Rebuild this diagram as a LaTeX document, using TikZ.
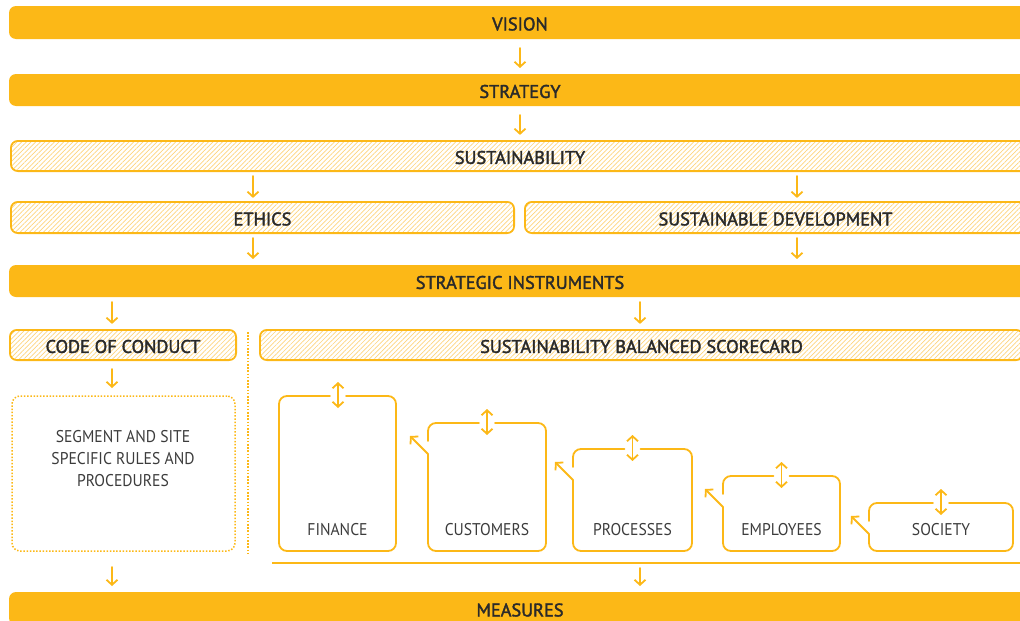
\documentclass[tikz,border=0pt]{standalone}
\usepackage{fontspec}
\setmainfont{PT Sans}
\newfontfamily\headfont[FakeBold=2]{PT Sans}
\newfontfamily\labfont[FakeStretch=0.92]{PT Sans}
\usetikzlibrary{arrows.meta,patterns.meta}
\definecolor{sun}{HTML}{FCB817}
\definecolor{hatch}{HTML}{FDD47C}
\definecolor{ink}{HTML}{2A2A2A}
\definecolor{grayink}{HTML}{3C3C3C}
\begin{document}
\begin{tikzpicture}[x=1pt,y=-1pt,
  head/.style={font=\headfont\fontsize{18.3}{21}\selectfont, text=ink,
    text height=15.8pt, text depth=0pt},
  solidbar/.style={head, fill=sun, rounded corners=7pt, inner sep=0pt, outer sep=0pt},
  hatchbar/.style={head, draw=sun, line width=1.8pt, rounded corners=7pt,
    pattern={Lines[angle=45,distance=3.3pt,line width=0.7pt]}, pattern color=hatch,
    inner sep=0pt, outer sep=0pt},
  barb/.tip={Straight Barb[length=5pt,width=11pt]},
  flow/.style={draw=sun, line width=1.8pt, line cap=round, -barb},
  outline/.style={draw=sun, line width=1.8pt, line cap=round, rounded corners=8pt},
  boxtext/.style={font=\labfont\fontsize{17}{22}\selectfont, text=grayink, align=center},
  dotline/.style={draw=sun, line width=1.5pt, dash pattern=on 1.5pt off 1.7pt},
]
\clip (0,0) rectangle (1020,621);

% columns used by the vertical connectors
\coordinate (colA) at (253,0);
\coordinate (colB) at (797,0);
\coordinate (colC) at (112,0);
\coordinate (colD) at (640,0);

% main bars
\node[solidbar, minimum width=1022pt, minimum height=33pt] (vision) at (520,22.5) {VISION};
\node[solidbar, minimum width=1022pt, minimum height=32pt] (strategy) at (520,90) {STRATEGY};
\node[hatchbar, minimum width=1018.2pt, minimum height=30.2pt] (sust) at (520,156) {SUSTAINABILITY};
\node[hatchbar, minimum width=503.2pt, minimum height=31.2pt] (ethics) at (262.5,217.5) {ETHICS};
\node[hatchbar, minimum width=501.2pt, minimum height=31.2pt] (sd) at (775.5,217.5) {SUSTAINABLE DEVELOPMENT};
\node[solidbar, minimum width=1022pt, minimum height=32pt] (strat) at (520,281) {STRATEGIC INSTRUMENTS};
\node[hatchbar, minimum width=226.2pt, minimum height=30.2pt] (code) at (123,345) {CODE OF CONDUCT};
\node[hatchbar, minimum width=763.2pt, minimum height=30.2pt] (bsc) at (641.5,345) {SUSTAINABILITY BALANCED SCORECARD};
\node[solidbar, minimum width=1022pt, minimum height=33pt] (measures) at (520,608.5) {MEASURES};

% rules box below the code of conduct
\node[dotline, rounded corners=8pt, minimum width=223pt, minimum height=155pt, outer sep=0pt] (rules) at (123.5,473.5) {};
\node[boxtext] (rulestext) at (123,459) {SEGMENT AND SITE\\SPECIFIC RULES AND\\PROCEDURES};

% dotted separator
\coordinate (septop) at (248,332);
\coordinate (sepbot) at (248,553);
\draw[dotline] (septop) -- (sepbot);

% vertical connectors
\draw[flow, shorten <=9pt, shorten >=6pt] (vision.south) -- (strategy.north);
\draw[flow, shorten <=9pt, shorten >=6pt] (strategy.south) -- (sust.north);
\draw[flow, shorten <=5pt, shorten >=4pt] (sust.south -| colA) -- (ethics.north -| colA);
\draw[flow, shorten <=5pt, shorten >=4pt] (sust.south -| colB) -- (sd.north -| colB);
\draw[flow, shorten <=5pt, shorten >=6pt] (ethics.south -| colA) -- (strat.north -| colA);
\draw[flow, shorten <=5pt, shorten >=6pt] (sd.south -| colB) -- (strat.north -| colB);
\draw[flow, shorten <=5pt, shorten >=6pt] (strat.south -| colC) -- (code.north -| colC);
\draw[flow, shorten <=5pt, shorten >=6pt] (strat.south -| colD) -- (bsc.north -| colD);
\draw[flow, shorten <=9pt, shorten >=8pt] (code.south -| colC) -- (rules.north -| colC);
\draw[flow, shorten <=16pt, shorten >=6pt] (rules.south -| colC) -- (measures.north -| colC);

% scorecard base line
\coordinate (basel) at (272,563);
\coordinate (baser) at (1030,563);
\draw[draw=sun, line width=1.8pt] (basel) -- (baser);
\draw[flow, shorten <=5pt, shorten >=6pt] (basel -| colD) -- (measures.north -| colD);

% scorecard perspectives
\draw[outline] (346,396) -- (396,396) -- (396,551) -- (279,551) -- (279,396) -- (330,396);
\draw[flow, barb-barb] (338,382) -- (338,408);
\node[boxtext] (fin) at (337.5,530) {FINANCE};

\foreach \nm/\L/\R/\T/\txt in {cus/428/546/423/CUSTOMERS, pro/573/692/449/PROCESSES,
    emp/723/840/476/EMPLOYEES, soc/869/1013/503/SOCIETY} {
  \pgfmathsetmacro\X{(\L+\R)/2}
  \draw[outline] (\X+8,\T) -- (\R,\T) -- (\R,551) -- (\L,551) -- (\L,\T+31);
  \draw[outline] (\X-8,\T) -- (\L,\T) -- (\L,\T+18);
  \draw[flow] (\L,\T+31) -- (\L-18,\T+13);
  \draw[flow, barb-barb] (\X,\T-14) -- (\X,\T+12);
  \node[boxtext] (\nm) at (\X,530) {\txt};
}
\end{tikzpicture}
\end{document}
